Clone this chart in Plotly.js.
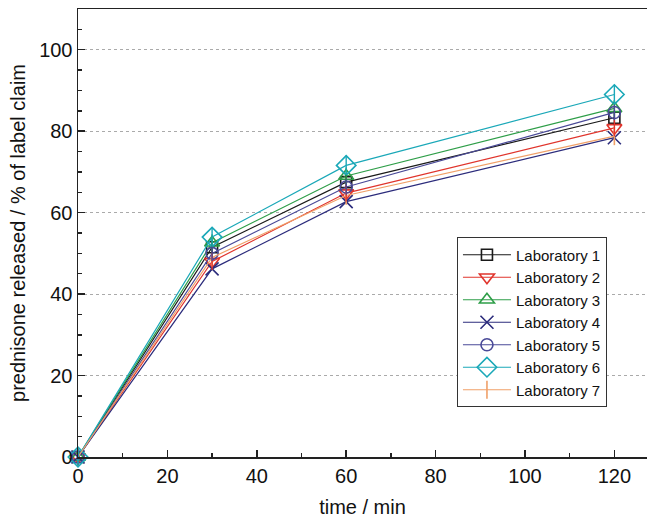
<!DOCTYPE html>
<html><head><meta charset="utf-8">
<script src="https://cdn.plot.ly/plotly-3.0.1.min.js"></script>
<style>html,body{margin:0;padding:0;background:#fff}#chart{width:649px;height:518px}</style>
</head><body><div id="chart"></div>
<script>
const times = [0, 30, 60, 120];
const labNames = ["Laboratory 1","Laboratory 2","Laboratory 3","Laboratory 4","Laboratory 5","Laboratory 6","Laboratory 7"];
const lab1 = [0, 51.5, 67.5, 83.3];
const lab2 = [0, 48.0, 64.8, 80.8];
const lab3 = [0, 52.6, 69.0, 85.6];
const lab4 = [0, 46.2, 62.7, 78.4];
const lab5 = [0, 50.0, 66.3, 84.6];
const lab6 = [0, 54.0, 71.6, 89.0];
const lab7 = [0, 49.0, 64.2, 78.8];
const labValues = [lab1, lab2, lab3, lab4, lab5, lab6, lab7];
const colors = ["#1a1a1a","#e0342c","#2e9e48","#2c2c7c","#4a4a98","#1aa8b8","#f0a068"];
const symbols = ["square-open","triangle-down-open","triangle-up-open","x-thin-open","circle-open","diamond-open","line-ns-open"];
const sizes = [11, 13, 13, 13, 12, 15, 13];
const withBar = [true, true, true, false, true, true, false];

const traces = [];
labValues.forEach((vals, i) => {
  traces.push({
    x: times, y: vals, name: labNames[i], type: "scatter", mode: "lines+markers",
    line: {color: colors[i], width: 1.2},
    marker: {symbol: symbols[i], size: sizes[i], color: colors[i], line: {color: colors[i], width: 1.6}},
    cliponaxis: false
  });
});
labValues.forEach((vals, i) => {
  if (!withBar[i]) return;
  traces.push({
    x: times, y: vals, type: "scatter", mode: "markers", showlegend: false, hoverinfo: "skip",
    marker: {symbol: "line-ns-open", size: sizes[i] - 1, color: colors[i], line: {color: colors[i], width: 1.4}},
    cliponaxis: false
  });
});

const layout = {
  width: 649, height: 518,
  margin: {l: 78, r: 2, t: 9, b: 61},
  paper_bgcolor: "#fff", plot_bgcolor: "#fff",
  font: {family: "Liberation Sans, Arial, sans-serif", color: "#111"},
  showlegend: true,
  legend: {
    x: 0.666, y: 0.49, xanchor: "left", yanchor: "top",
    bordercolor: "#333", borderwidth: 1, bgcolor: "#fff",
    itemwidth: 48,
    font: {size: 15, color: "#111"}
  },
  xaxis: {
    range: [0, 127.3], tickvals: [0,20,40,60,80,100,120], ticktext: ["0","20","40","60","80","100","120"],
    ticks: "inside", ticklen: 7, tickwidth: 1.5, tickcolor: "#222",
    minor: {tickvals: [10,30,50,70,90,110], ticks: "inside", ticklen: 4, tickwidth: 1.5, tickcolor: "#222", showgrid: false},
    showline: true, linecolor: "#222", linewidth: 1.5, mirror: true,
    showgrid: false, zeroline: false,
    tickfont: {size: 20, color: "#111"},
    title: {text: "time / min", font: {size: 20, color: "#111"}, standoff: 15}
  },
  yaxis: {
    range: [0, 110], tickvals: [0,20,40,60,80,100], ticktext: ["0","20","40","60","80","100"],
    ticks: "inside", ticklen: 7, tickwidth: 1.5, tickcolor: "#222",
    minor: {dtick: 5, tick0: 0, ticks: "inside", ticklen: 4, tickwidth: 1.5, tickcolor: "#222", showgrid: false},
    showline: true, linecolor: "#222", linewidth: 1.5, mirror: false,
    showgrid: true, gridcolor: "#aaa", griddash: "dot", gridwidth: 1,
    zeroline: false,
    tickfont: {size: 20, color: "#111"},
    title: {text: "prednisone released / % of label claim", font: {size: 20, color: "#111"}, standoff: 8}
  }
};
Plotly.newPlot("chart", traces, layout, {displayModeBar: false, staticPlot: true});
</script></body></html>
